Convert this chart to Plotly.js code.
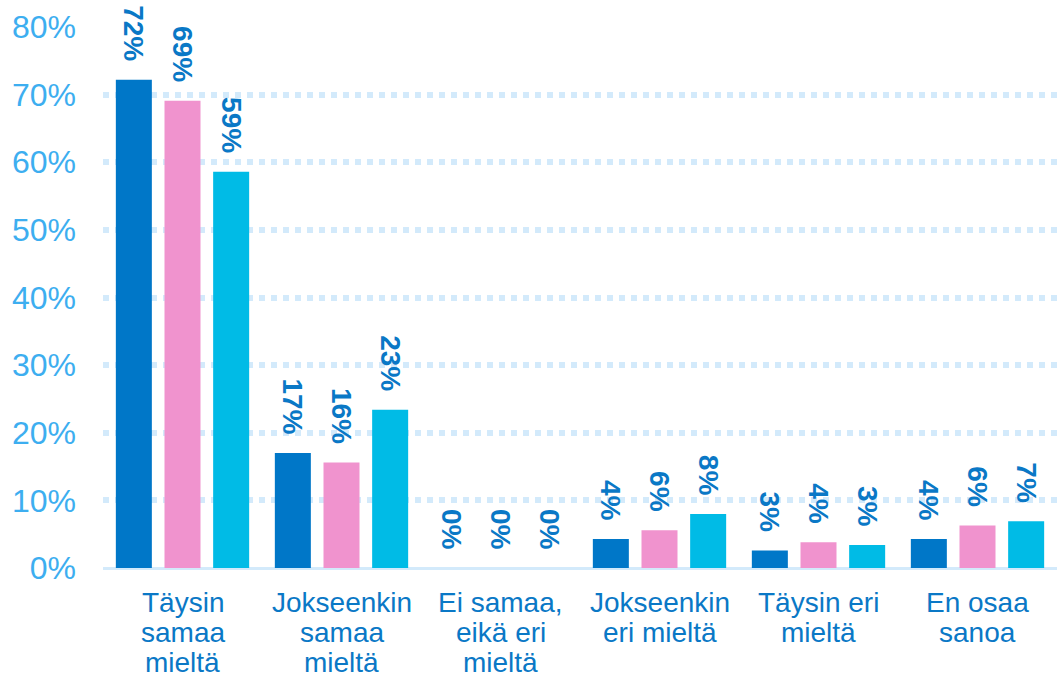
<!DOCTYPE html>
<html>
<head>
<meta charset="utf-8">
<script src="https://cdn.plot.ly/plotly-3.0.1.min.js"></script>
<style>html,body{margin:0;padding:0;background:#fff}#chart{width:1058px;height:677px}</style>
</head>
<body>
<div id="chart"></div>
<script>
var categories = ["Täysin samaa mieltä", "Jokseenkin samaa mieltä", "Ei samaa, eikä eri mieltä", "Jokseenkin eri mieltä", "Täysin eri mieltä", "En osaa sanoa"];
var categoryLines = [["Täysin", "samaa", "mieltä"], ["Jokseenkin", "samaa", "mieltä"], ["Ei samaa,", "eikä eri", "mieltä"], ["Jokseenkin", "eri mieltä"], ["Täysin eri", "mieltä"], ["En osaa", "sanoa"]];
var series1 = [72.2, 17.0, 0, 4.3, 2.6, 4.3];
var series2 = [69.1, 15.6, 0, 5.6, 3.8, 6.3];
var series3 = [58.6, 23.4, 0, 8.0, 3.4, 6.9];
var labels1 = ["72%", "17%", "0%", "4%", "3%", "4%"];
var labels2 = ["69%", "16%", "0%", "6%", "4%", "6%"];
var labels3 = ["59%", "23%", "0%", "8%", "3%", "7%"];
var yTickVals = [0, 10, 20, 30, 40, 50, 60, 70, 80];
var yTickText = ["0%", "10%", "20%", "30%", "40%", "50%", "60%", "70%", "80%"];

var FONT = "Liberation Sans, Arial, sans-serif";
var LABEL_BLUE = "#0A78C6";
var colors = ["#0077C8", "#F093CE", "#00BBE6"];
var pad = "\u00a0\u00a0";

function mk(name, vals, labs, color) {
  return {
    type: "bar",
    name: name,
    x: categories,
    y: vals,
    text: labs.map(function (t) { return t + pad; }),
    textposition: "outside",
    textangle: 90,
    constraintext: "none",
    cliponaxis: false,
    textfont: {family: FONT, size: 28, color: LABEL_BLUE, weight: "bold"},
    marker: {color: color, line: {width: 0}},
    hoverinfo: "skip"
  };
}

var data = [
  mk("Sarja 1", series1, labels1, colors[0]),
  mk("Sarja 2", series2, labels2, colors[1]),
  mk("Sarja 3", series3, labels3, colors[2])
];

var annotations = [];
categories.forEach(function (c, i) {
  categoryLines[i].forEach(function (line, j) {
    annotations.push({
      xref: "x", yref: "paper", x: c, y: 0,
      xanchor: "center", yanchor: "middle",
      yshift: -34 - j * 30,
      text: line, showarrow: false,
      font: {family: FONT, size: 28, color: LABEL_BLUE}
    });
  });
});

var layout = {
  width: 1058, height: 677,
  margin: {l: 103, r: 1, t: 27, b: 109},
  paper_bgcolor: "#ffffff", plot_bgcolor: "#ffffff",
  showlegend: false,
  barmode: "group",
  bargap: 0.082,
  bargroupgap: 0.26,
  xaxis: {
    type: "category",
    showticklabels: false,
    showgrid: false,
    zeroline: false,
    showline: false,
    ticks: "",
    fixedrange: true
  },
  yaxis: {
    range: [0, 80],
    tickvals: yTickVals,
    ticktext: yTickText,
    tickfont: {family: FONT, size: 32, color: "#3DAEF0"},
    ticklabelstandoff: 26,
    showgrid: true,
    gridcolor: "#D3EAFB",
    gridwidth: 6,
    griddash: "6px,6px",
    zeroline: true,
    zerolinecolor: "#D3EAFB",
    zerolinewidth: 3,
    showline: false,
    ticks: "",
    fixedrange: true
  },
  annotations: annotations
};

Plotly.newPlot("chart", data, layout, {displayModeBar: false, staticPlot: true});
</script>
</body>
</html>
